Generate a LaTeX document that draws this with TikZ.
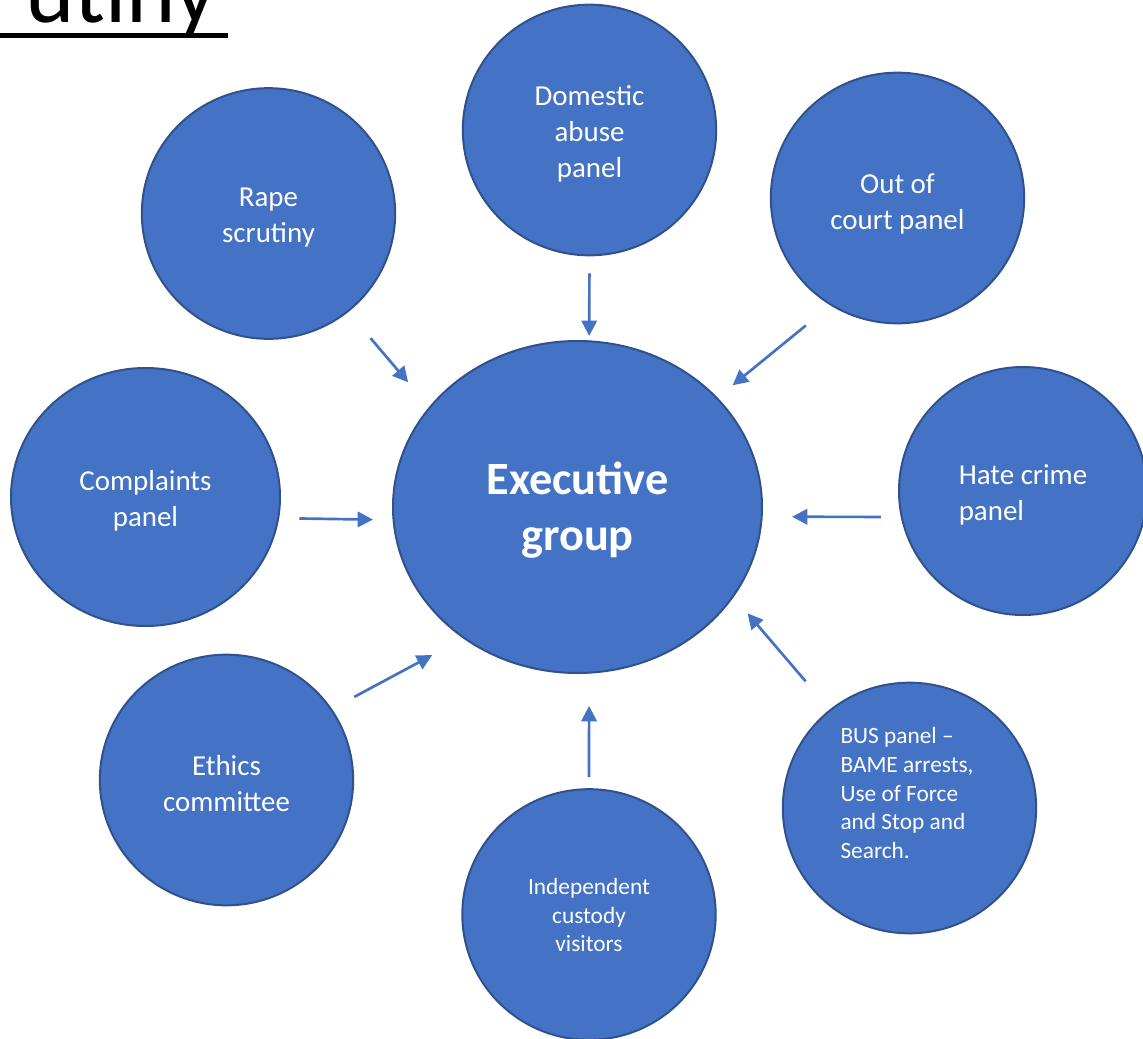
\documentclass[tikz,border=0pt]{standalone}
\usepackage{fontspec}
\setmainfont{Carlito}
\usetikzlibrary{arrows.meta,shapes.geometric}
\definecolor{panelfill}{HTML}{4472C4}
\definecolor{panelline}{HTML}{2F528F}
\definecolor{arrowblue}{HTML}{4472C4}
% raises the first line, so that the text block sits a little lower
\newcommand\toprule[1]{\rule{0pt}{#1}}
\begin{document}
\begin{tikzpicture}[x=0.75pt,y=-0.75pt,
    panel/.style={ellipse, draw=panelline, fill=panelfill, line width=1.5pt, text=white,
      inner sep=0pt, minimum width=190pt, minimum height=188pt, align=center,
      font=\fontsize{21.7}{27}\selectfont},
    small/.style={font=\fontsize{17.5}{21.5}\selectfont},
    arr/.style={-{Triangle[length=11.5pt,width=11.5pt]}, color=arrowblue, line width=2pt}]
  \useasboundingbox (0,0) rectangle (1143,1039);

  % title, cut off at the top edge
  \node [font=\fontsize{70.5}{84}\selectfont, anchor=base west, inner sep=0pt] (title) at (25,22) {utiny};
  \coordinate (ulstart) at (0,35.5);
  \draw [line width=3.75pt] (ulstart) -- ([xshift=8pt]ulstart -| title.east);

  \node [panel, minimum width=276.75pt, minimum height=249pt,
    font=\fontsize{34.7}{42}\selectfont\bfseries] (exec) at (577.5,507) {\toprule{29.7pt}Executive\\group};
  \node [panel] (dom) at (589.5,130) {\toprule{20.5pt}Domestic\\abuse\\panel};
  \node [panel] (rape) at (268.5,213.5) {\toprule{20.5pt}Rape\\scrutiny};
  \node [panel] (court) at (897.5,198) {\toprule{24pt}Out of\\court panel};
  \node [panel, minimum width=201.75pt, minimum height=193.5pt] (compl) at (145.5,497) {\toprule{20.5pt}Complaints\\panel};
  \node [panel, minimum width=186pt, minimum height=186pt, align=left] (hate) at (1023,491) {\toprule{20.5pt}Hate crime\\panel};
  \node [panel] (ethics) at (226.5,780) {\toprule{20.5pt}Ethics\\committee};
  \node [panel, small] (indep) at (589,914.5) {\toprule{13pt}Independent\\custody\\visitors};
  \node [panel] (bus) at (909.5,808) {};
  \node [small, text=white, align=left] (bustext) at (907,793) {BUS panel --\\BAME arrests,\\Use of Force\\and Stop and\\Search.};

  \draw [arr, shorten <=25.7pt, shorten >=24.2pt] (rape.-51) -- (exec.146.6);
  \draw [arr, shorten <=12.75pt, shorten >=3.3pt] (dom.-90) -- (exec.86);
  \draw [arr, shorten <=23.7pt, shorten >=14.6pt] (court.-122.5) -- (exec.38.9);
  \draw [arr, shorten <=15.2pt, shorten >=14.7pt] (compl.-9.9) -- (exec.184);
  \draw [arr, shorten <=14.9pt, shorten >=22pt] (hate.192.1) -- (exec.-3.1);
  \draw [arr, shorten <=19pt, shorten >=26.4pt] (ethics.34.2) -- (exec.-131.4);
  \draw [arr, shorten <=8.25pt, shorten >=24.2pt] (indep.90) -- (exec.-86);
  \draw [arr, shorten <=27.7pt, shorten >=16.05pt] (bus.129.7) -- (exec.-30.4);
\end{tikzpicture}
\end{document}
